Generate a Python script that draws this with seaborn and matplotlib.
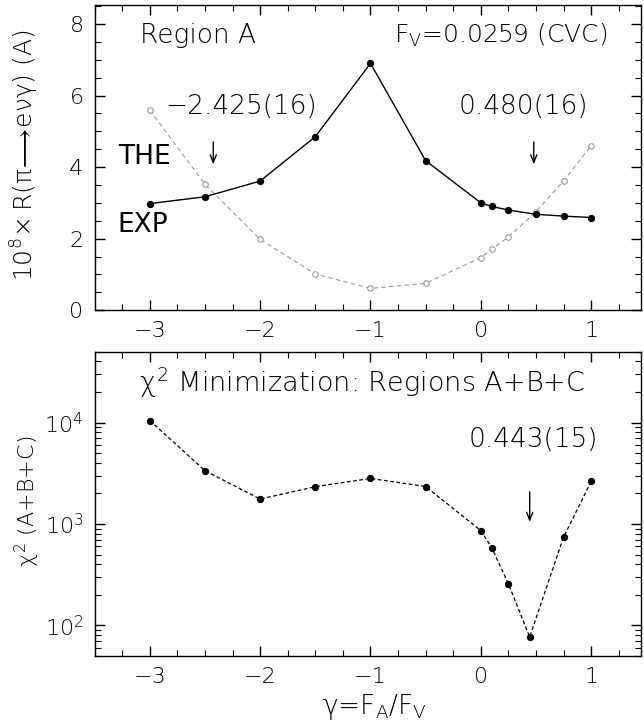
import matplotlib
matplotlib.use("Agg")
import matplotlib.pyplot as plt
import seaborn as sns
import numpy as np
from matplotlib.ticker import MultipleLocator, LogLocator

# gamma = F_A / F_V grid
gamma = [-3, -2.5, -2, -1.5, -1, -0.5, 0, 0.1, 0.25, 0.5, 0.75, 1]
r_exp = [2.98, 3.17, 3.61, 4.85, 6.90, 4.18, 3.00, 2.90, 2.80, 2.68, 2.63, 2.59]
r_the = [5.59, 3.52, 1.98, 1.01, 0.61, 0.75, 1.47, 1.70, 2.05, 2.75, 3.61, 4.60]

# chi2 scan
gamma_chi = [-3, -2.5, -2, -1.5, -1, -0.5, 0, 0.1, 0.25, 0.443, 0.75, 1]
chi2 = [10450, 3350, 1760, 2330, 2810, 2340, 860, 581, 257, 77, 740, 2630]

fit_top = [-2.425, 0.480]
fit_top_labels = ["\u22122.425(16)", "0.480(16)"]
fit_chi = 0.443
fit_chi_label = "0.443(15)"

sns.set_style("ticks")
plt.rcParams['font.family'] = ['DejaVu Sans']
plt.rcParams['font.weight'] = 'light'
plt.rcParams['axes.labelweight'] = 'light'
plt.rcParams['mathtext.fontset'] = 'custom'
plt.rcParams['mathtext.rm'] = 'DejaVu Sans:light'
plt.rcParams['mathtext.it'] = 'DejaVu Sans:light'
plt.rcParams['mathtext.bf'] = 'DejaVu Sans:bold'
plt.rcParams['mathtext.fallback'] = 'stixsans'
for key in ['text.color', 'axes.labelcolor', 'xtick.color', 'ytick.color', 'axes.edgecolor']:
    plt.rcParams[key] = 'black'

arrow_style = dict(arrowstyle='->,head_length=0.55,head_width=0.22', color='black', lw=1.0)

fig = plt.figure(figsize=(6.44, 7.23), dpi=100)
ax1 = fig.add_axes([0.147, 0.571, 0.848, 0.422])
ax2 = fig.add_axes([0.147, 0.0927, 0.848, 0.421])

# top panel: Region A
sns.lineplot(x=gamma, y=r_the, ax=ax1, color='#999999', lw=0.8, linestyle=(0, (4, 3)),
             marker='o', markersize=4, markerfacecolor='white', markeredgecolor='#999999',
             markeredgewidth=0.8, sort=False)
sns.lineplot(x=gamma, y=r_exp, ax=ax1, color='black', lw=1.0,
             marker='o', markersize=4.5, markerfacecolor='black', markeredgecolor='black', sort=False)

ax1.set_xlim(-3.5, 1.45)
ax1.set_ylim(0, 8.53)
ax1.xaxis.set_major_locator(MultipleLocator(1))
ax1.xaxis.set_minor_locator(MultipleLocator(0.25))
ax1.yaxis.set_major_locator(MultipleLocator(2))
ax1.yaxis.set_minor_locator(MultipleLocator(0.5))
ax1.set_ylabel(r"$10^8\!\times$R($\pi\!\longrightarrow\! e\nu\gamma$) (A)", fontsize=18, va='center')
ax1.yaxis.set_label_coords(-0.127, 0.508)

for xv in fit_top:
    ax1.annotate('', xy=(xv, 4.0), xytext=(xv, 4.78), arrowprops=arrow_style)
ax1.text(-2.17, 5.69, fit_top_labels[0], fontsize=19, ha='center', va='center')
ax1.text(0.384, 5.69, fit_top_labels[1], fontsize=19, ha='center', va='center')
ax1.text(-3.09, 7.69, "Region A", fontsize=19, ha='left', va='center')
ax1.text(-0.79, 7.69, r"F$_\mathregular{V}$=0.0259 (CVC)", fontsize=18, ha='left', va='center')
ax1.text(-3.29, 4.29, "THE", fontsize=19, ha='left', va='center', fontweight='normal')
ax1.text(-3.29, 2.38, "EXP", fontsize=19, ha='left', va='center', fontweight='normal')

# bottom panel: chi2 minimization
sns.lineplot(x=gamma_chi, y=chi2, ax=ax2, color='black', lw=0.9, linestyle=(0, (3, 2)),
             marker='o', markersize=4.5, markerfacecolor='black', markeredgecolor='black', sort=False)
ax2.set_yscale('log')
ax2.set_xlim(-3.5, 1.45)
ax2.set_ylim(50, 50000)
ax2.xaxis.set_major_locator(MultipleLocator(1))
ax2.xaxis.set_minor_locator(MultipleLocator(0.25))
ax2.yaxis.set_major_locator(LogLocator(base=10, numticks=10))
ax2.yaxis.set_minor_locator(LogLocator(base=10, subs=np.arange(2, 10), numticks=20))
ax2.set_ylabel(r"$\chi^2$ (A+B+C)", fontsize=16, va='center')
ax2.yaxis.set_label_coords(-0.124, 0.507)
ax2.set_xlabel(r"$\gamma$=F$_\mathregular{A}$/F$_\mathregular{V}$", fontsize=19, va='center')
ax2.xaxis.set_label_coords(0.512, -0.168)
ax2.annotate('', xy=(fit_chi, 985), xytext=(fit_chi, 2210), arrowprops=arrow_style)
ax2.text(0.478, 6760, fit_chi_label, fontsize=19, ha='center', va='center')
ax2.text(-1.08, 24500, r"$\chi^2$ Minimization: Regions A+B+C", fontsize=19.5, ha='center', va='center')

for ax in (ax1, ax2):
    ax.tick_params(which='both', direction='in', top=True, right=True, labelsize=16, pad=8)
    ax.tick_params(which='major', length=7, width=1)
    ax.tick_params(which='minor', length=4, width=0.8)
    for sp in ax.spines.values():
        sp.set_linewidth(1.0)
        sp.set_visible(True)

fig.savefig("out.png", dpi=100)
